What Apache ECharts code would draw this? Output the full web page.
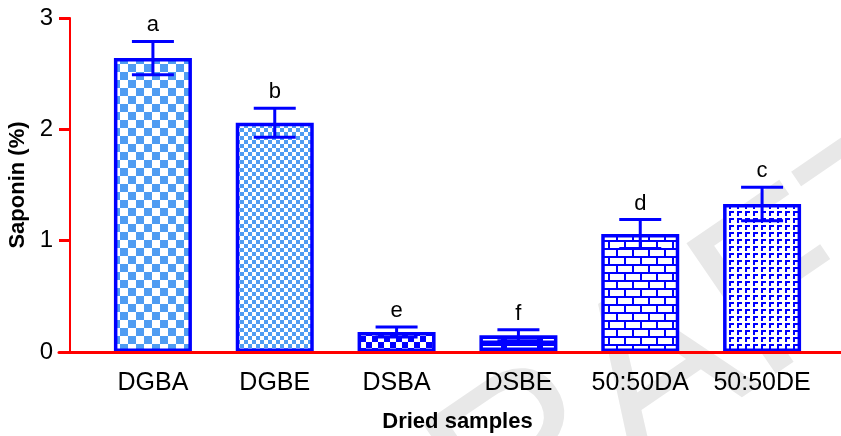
<!DOCTYPE html>
<html>
<head>
<meta charset="utf-8">
<script src="https://cdn.jsdelivr.net/npm/echarts@6/dist/echarts.min.js"></script>
<style>
html,body{margin:0;padding:0;background:#fff;}
#chart{width:841px;height:436px;}
</style>
</head>
<body>
<div id="chart"></div>
<script>
// ---- data ----
const categories = ['DGBA', 'DGBE', 'DSBA', 'DSBE', '50:50DA', '50:50DE'];
const means = [2.64, 2.06, 0.18, 0.15, 1.06, 1.33];
const errors = [0.15, 0.13, 0.045, 0.05, 0.13, 0.15];
const letters = ['a', 'b', 'e', 'f', 'd', 'c'];
const yTicks = [0, 1, 2, 3];

// ---- fill patterns ----
const BLUE = '#0000ff';
const LIGHT = '#4f9cf2';
function makeCanvas(w, h, draw) {
  const c = document.createElement('canvas');
  c.width = w; c.height = h;
  const ctx = c.getContext('2d');
  ctx.fillStyle = '#fff'; ctx.fillRect(0, 0, w, h);
  draw(ctx);
  return { image: c, repeat: 'repeat' };
}
function checker(cell, col) {
  return makeCanvas(cell * 2, cell * 2, ctx => {
    ctx.fillStyle = col;
    ctx.fillRect(0, 0, cell, cell);
    ctx.fillRect(cell, cell, cell, cell);
  });
}
const patterns = [
  checker(8, LIGHT),
  checker(4, LIGHT),
  checker(6, BLUE),
  makeCanvas(36, 7, ctx => {
    ctx.fillStyle = BLUE; ctx.fillRect(0, 0, 36, 7);
    ctx.fillStyle = '#fff'; ctx.fillRect(3, 3, 30, 1.5);
  }),
  makeCanvas(16, 16, ctx => {
    ctx.fillStyle = BLUE;
    ctx.fillRect(0, 0, 16, 2);
    ctx.fillRect(0, 8, 16, 2);
    ctx.fillRect(0, 0, 2, 8);
    ctx.fillRect(8, 8, 2, 8);
  }),
  makeCanvas(8, 7, ctx => {
    ctx.fillStyle = BLUE;
    ctx.fillRect(1, 1, 5, 2);
    ctx.fillRect(1, 1, 2, 5);
  })
];

const chart = echarts.init(document.getElementById('chart'), null, { renderer: 'canvas' });
const FONT = 'Liberation Sans, Arial, sans-serif';

const option = {
  animation: false,
  backgroundColor: '#fff',
  graphic: {
    elements: [{
      type: 'text',
      x: 640, y: 390,
      rotation: 0.6,
      z: -100,
      style: {
        text: 'DRAFT',
        font: '230px Liberation Sans',
        fill: '#e8e8e8',
        textAlign: 'center',
        textVerticalAlign: 'middle'
      }
    }]
  },
  grid: [
    { left: 92, right: 18, top: 18, bottom: 84, containLabel: false, outerBoundsMode: 'none' },
    { left: 59, right: 0, top: 18, bottom: 84, containLabel: false, outerBoundsMode: 'none' }
  ],
  xAxis: [{
    type: 'category',
    data: categories,
    gridIndex: 0,
    z: 5,
    axisLine: { lineStyle: { color: '#ff0000', width: 3 } },
    axisTick: { alignWithLabel: true, length: 11, lineStyle: { color: '#ff0000', width: 3 } },
    axisLabel: { interval: 0, color: '#000', fontSize: 25, fontFamily: FONT, margin: 19, hideOverlap: false },
    name: 'Dried samples',
    nameLocation: 'middle',
    nameGap: 59,
    nameTextStyle: { color: '#000', fontSize: 22, fontWeight: 'bold', fontFamily: FONT }
  }, {
    type: 'value',
    gridIndex: 1,
    min: 0, max: 1,
    z: 5,
    axisLine: { show: true, lineStyle: { color: '#ff0000', width: 3 } },
    axisTick: { show: false },
    axisLabel: { show: false },
    splitLine: { show: false }
  }],
  yAxis: [{
    type: 'value',
    gridIndex: 0,
    min: yTicks[0], max: yTicks[yTicks.length - 1], interval: 1,
    offset: 22,
    z: 5,
    axisLine: { show: true, lineStyle: { color: '#ff0000', width: 2 } },
    axisTick: { show: true, length: 11, lineStyle: { color: '#ff0000', width: 3 } },
    axisLabel: { color: '#000', fontSize: 24, fontFamily: FONT, margin: 17 },
    splitLine: { show: false },
    name: 'Saponin (%)',
    nameLocation: 'middle',
    nameGap: 39,
    nameTextStyle: { color: '#000', fontSize: 22, fontWeight: 'bold', fontFamily: FONT }
  }, {
    type: 'value', gridIndex: 1, show: false, min: 0, max: 1
  }],
  series: [{
    type: 'bar',
    xAxisIndex: 0, yAxisIndex: 0,
    barWidth: 78,
    data: means.map((v, i) => ({
      value: v,
      itemStyle: { color: patterns[i], borderColor: BLUE, borderWidth: 3.5 }
    }))
  }, {
    type: 'custom',
    xAxisIndex: 0, yAxisIndex: 0,
    z: 10,
    data: means.map((v, i) => [i, v, errors[i]]),
    renderItem: function (params, api) {
      const idx = params.dataIndex;
      const x = api.value(0), m = api.value(1), e = api.value(2);
      const top = api.coord([x, m + e]);
      const bot = api.coord([x, m - e]);
      const half = 21;
      const st = { stroke: BLUE, lineWidth: 3 };
      return {
        type: 'group',
        children: [
          { type: 'line', shape: { x1: top[0], y1: top[1], x2: bot[0], y2: bot[1] }, style: st },
          { type: 'line', shape: { x1: top[0] - half, y1: top[1], x2: top[0] + half, y2: top[1] }, style: st },
          { type: 'line', shape: { x1: bot[0] - half, y1: bot[1], x2: bot[0] + half, y2: bot[1] }, style: st },
          { type: 'text', x: top[0], y: top[1] - 5,
            style: { text: letters[idx], textAlign: 'center', textVerticalAlign: 'bottom',
                     font: '22px Liberation Sans', fill: '#000' } }
        ]
      };
    }
  }]
};
chart.setOption(option);
</script>
</body>
</html>
